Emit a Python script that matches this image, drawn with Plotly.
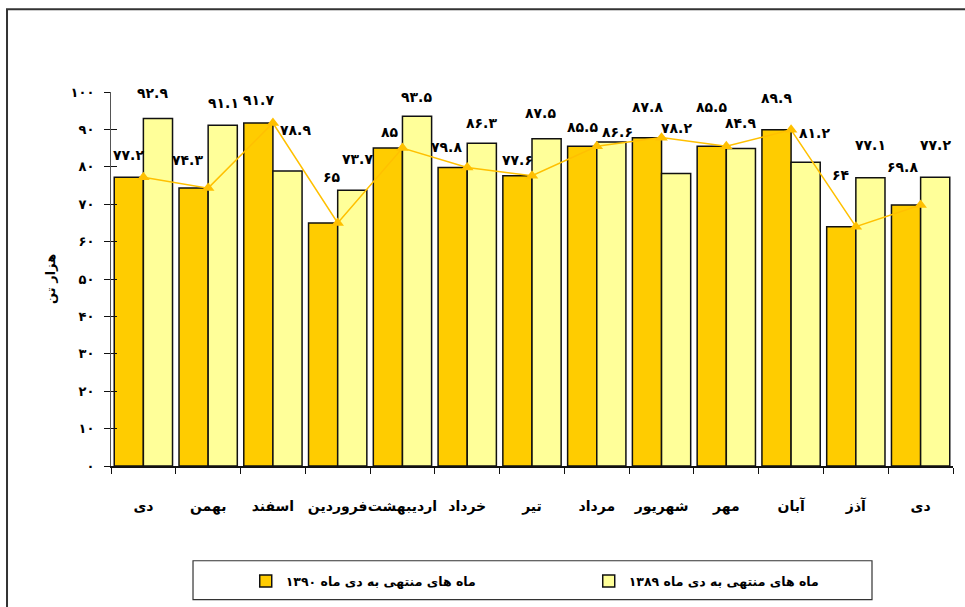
import plotly.graph_objects as go

categories = ["دی", "بهمن", "اسفند", "فروردین", "اردیبهشت", "خرداد", "تیر",
              "مرداد", "شهریور", "مهر", "آبان", "آذز", "دی"]
values_1390 = [77.2, 74.3, 91.7, 65, 85, 79.8, 77.6, 85.5, 87.8, 85.5, 89.9, 64, 69.8]
values_1389 = [92.9, 91.1, 78.9, 73.7, 93.5, 86.3, 87.5, 86.6, 78.2, 84.9, 81.2, 77.1, 77.2]
y_ticks = [0, 10, 20, 30, 40, 50, 60, 70, 80, 90, 100]
name_1390 = "ماه های منتهی به دی ماه ۱۳۹۰"
name_1389 = "ماه های منتهی به دی ماه ۱۳۸۹"
y_title = "هزار تن"

# label placement offsets (pixels) as the labels were placed in the original
label_dy_1390 = [22, 28, 23, 46, 16, 21, 16, 19, 31, 39, 32, 52, 38]
label_dy_1389 = [26, 22, 41, 31, 19, 20, 26, 10, 46, 25, 29, 33, 32]
label_dx_1390 = [0, -6, 0, 9, 2, -6, 0, 0, 0, 0, 0, 0, -4]
label_dx_1389 = [-5, 1, 8, 5, 0, 0, -6, 6, 0, 0, 9, 0, 0]

FA = str.maketrans("0123456789", "۰۱۲۳۴۵۶۷۸۹")


def fa(v):
    return f"{v:g}".translate(FA)


FONT = "DejaVu Sans"
DARK = "#FFCC00"
LIGHT = "#FFFF99"
LINE = "#FFC000"

xs = list(range(len(categories)))

fig = go.Figure()
fig.add_trace(go.Bar(x=xs, y=values_1390, name=name_1390,
                     marker=dict(color=DARK, line=dict(color="#111111", width=1.5))))
fig.add_trace(go.Bar(x=xs, y=values_1389, name=name_1389,
                     marker=dict(color=LIGHT, line=dict(color="#111111", width=1.5))))
fig.add_trace(go.Scatter(x=xs, y=values_1390, mode="lines+markers", yaxis="y2",
                         showlegend=False,
                         line=dict(color=LINE, width=1.5),
                         marker=dict(symbol="triangle-up", size=11, color=LINE)))

annotations = []
for i in xs:
    annotations.append(dict(x=i, y=values_1390[i], text=fa(values_1390[i]), showarrow=False,
                            xshift=-14.5 + label_dx_1390[i], yshift=label_dy_1390[i],
                            font=dict(family=FONT, size=14, color="black", weight="bold")))
    annotations.append(dict(x=i, y=values_1389[i], text=fa(values_1389[i]), showarrow=False,
                            xshift=14.5 + label_dx_1389[i], yshift=label_dy_1389[i],
                            font=dict(family=FONT, size=14, color="black", weight="bold")))

annotations.append(dict(xref="paper", yref="paper", x=-0.0725, y=0.5, text=y_title,
                        textangle=-90, showarrow=False, xanchor="center", yanchor="middle",
                        font=dict(family=FONT, size=13, color="black", weight="bold")))

shapes = [
    # legend frame
    dict(type="rect", xref="paper", yref="paper", x0=0.0974, x1=0.9038, y0=-0.3573, y1=-0.2533,
         line=dict(color="#333333", width=1.2), fillcolor="rgba(0,0,0,0)"),
    # outer frame
    dict(type="rect", xref="paper", yref="paper", x0=-0.1235, x1=1.03, y0=-0.45, y1=1.2213,
         line=dict(color="#333333", width=2), fillcolor="rgba(0,0,0,0)"),
]

fig.update_layout(
    width=965, height=607,
    margin=dict(l=111, r=12, t=92, b=140),
    paper_bgcolor="white", plot_bgcolor="white",
    barmode="group", bargap=0.1, bargroupgap=0,
    font=dict(family=FONT, color="black"),
    xaxis=dict(range=[-0.5, 12.5], tickmode="array", tickvals=xs, ticktext=categories,
               ticks="", showgrid=False, zeroline=False, tickangle=0,
               showline=True, linecolor="#111111", linewidth=1.5,
               tickfont=dict(family=FONT, size=14, color="black", weight="bold"),
               ticklabelstandoff=26,
               minor=dict(ticks="outside", tick0=-0.5, dtick=1, ticklen=6,
                          tickcolor="#111111", tickwidth=1, showgrid=False)),
    yaxis=dict(range=[0, 100], tickmode="array", tickvals=y_ticks,
               ticktext=[fa(v) for v in y_ticks],
               ticks="outside", ticklen=6, tickcolor="#111111", tickwidth=1,
               showgrid=False, zeroline=False, showline=True, linecolor="#555555", linewidth=1,
               tickfont=dict(family=FONT, size=13, color="black", weight="bold"),
               ticklabelstandoff=7),
    yaxis2=dict(range=[0, 100], overlaying="y", side="left", tickmode="array", tickvals=y_ticks,
                ticks="inside", ticklen=6, tickcolor="#111111", tickwidth=1,
                showticklabels=False, showgrid=False, zeroline=False, showline=False),
    legend=dict(orientation="h", x=0.16, xanchor="left", y=-0.305, yanchor="middle",
                entrywidth=298, entrywidthmode="pixels",
                font=dict(family=FONT, size=12.5, color="black", weight="bold"),
                bgcolor="rgba(0,0,0,0)", borderwidth=0, traceorder="normal"),
    annotations=annotations,
    shapes=shapes,
)

fig.write_html("out.html", config={"displayModeBar": False},
               post_script="document.body.style.margin='0';")
